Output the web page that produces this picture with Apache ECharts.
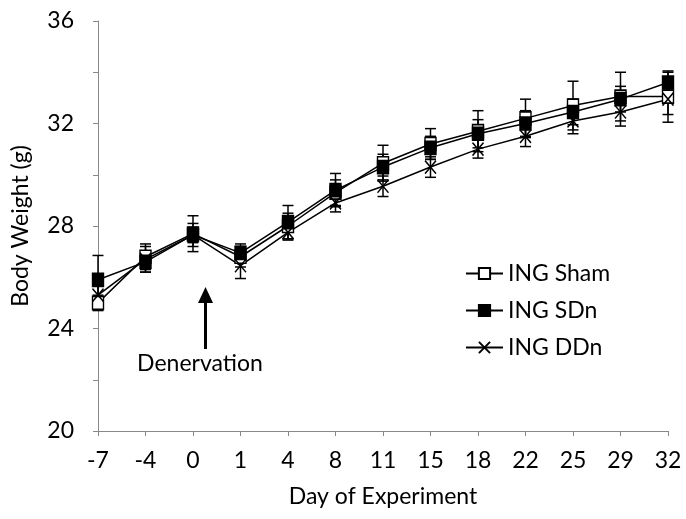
<!DOCTYPE html>
<html>
<head>
<meta charset="utf-8">
<script src="https://cdn.jsdelivr.net/npm/echarts@6/dist/echarts.min.js"></script>
<style>
  html, body { margin: 0; padding: 0; background: #fff; }
  #chart { width: 686px; height: 519px; }
</style>
</head>
<body>
<div id="chart"></div>
<script>
// days on the x axis (drawn as equally spaced categories)
const days = ['-7', '-4', '0', '1', '4', '8', '11', '15', '18', '22', '25', '29', '32'];

// mean body weight (g)
const shamMean = [25.0, 26.8, 27.7, 26.8, 28.0, 29.3, 30.45, 31.2, 31.7, 32.2, 32.7, 33.05, 33.05];
const sdnMean  = [25.9, 26.6, 27.65, 26.95, 28.15, 29.4, 30.3, 31.05, 31.6, 32.0, 32.45, 32.95, 33.6];
const ddnMean  = [25.3, 26.7, 27.65, 26.45, 27.75, 28.9, 29.55, 30.3, 31.0, 31.5, 32.1, 32.45, 32.95];

// error (+/-) for each point
const shamErr = [0.3, 0.5, 0.7, 0.4, 0.5, 0.5, 0.7, 0.6, 0.8, 0.75, 0.95, 0.95, 1.0];
const sdnErr  = [0.95, 0.4, 0.45, 0.35, 0.65, 0.65, 0.5, 0.45, 0.55, 0.5, 0.5, 0.5, 0.4];
const ddnErr  = [0.5, 0.5, 0.3, 0.5, 0.3, 0.35, 0.4, 0.4, 0.35, 0.4, 0.5, 0.55, 0.6];

const chart = echarts.init(document.getElementById('chart'));
const font = 'Lato, "Open Sans", sans-serif';

const crossPath = 'path://M0,0L10,12M10,0L0,12';

// error bars as custom series: vertical line plus caps
function errorSeries(name, means, errs) {
  return {
    name: name + ' err',
    type: 'custom',
    z: 1,
    data: means.map((m, i) => [i, m - errs[i], m + errs[i]]),
    renderItem: function (params, api) {
      const lo = api.coord([api.value(0), api.value(1)]);
      const hi = api.coord([api.value(0), api.value(2)]);
      const cap = 5.5;
      const style = { stroke: '#000', lineWidth: 1.5 };
      return {
        type: 'group',
        children: [
          { type: 'line', shape: { x1: lo[0], y1: lo[1], x2: hi[0], y2: hi[1] }, style: style },
          { type: 'line', shape: { x1: lo[0] - cap, y1: lo[1], x2: lo[0] + cap, y2: lo[1] }, style: style },
          { type: 'line', shape: { x1: hi[0] - cap, y1: hi[1], x2: hi[0] + cap, y2: hi[1] }, style: style }
        ]
      };
    }
  };
}

function lineSeries(name, means, symbol, fill) {
  return {
    name: name,
    type: 'line',
    z: 3,
    data: means,
    symbol: symbol,
    symbolSize: [11, 13],
    showAllSymbol: true,
    lineStyle: { color: '#000', width: 1.5 },
    itemStyle: { color: fill, borderColor: '#000', borderWidth: 1.5 },
    emphasis: { disabled: true }
  };
}

const option = {
  animation: false,
  backgroundColor: '#fff',
  grid: { left: 98, right: 18, top: 21, bottom: 88 },
  legend: {
    orient: 'vertical',
    left: 465,
    top: 262,
    padding: 0,
    itemGap: 14,
    itemWidth: 37,
    itemHeight: 14,
    data: ['ING Sham', 'ING SDn', 'ING DDn'],
    textStyle: { fontFamily: font, fontSize: 23, color: '#000', lineHeight: 23 }
  },
  xAxis: {
    type: 'category',
    data: days,
    boundaryGap: false,
    name: 'Day of Experiment',
    nameLocation: 'middle',
    nameGap: 54,
    nameTextStyle: { fontFamily: font, fontSize: 23, color: '#000' },
    axisLine: { lineStyle: { color: '#888', width: 1 } },
    axisTick: { show: true, length: 5, alignWithLabel: true, lineStyle: { color: '#888' } },
    axisLabel: { fontFamily: font, fontSize: 23, color: '#000', margin: 18, interval: 0 },
    splitLine: { show: false }
  },
  yAxis: {
    type: 'value',
    min: 20,
    max: 36,
    interval: 2,
    name: 'Body Weight (g)',
    nameLocation: 'middle',
    nameGap: 66,
    nameTextStyle: { fontFamily: font, fontSize: 23, color: '#000' },
    axisLine: { show: true, lineStyle: { color: '#888', width: 1 } },
    axisTick: { show: true, length: 5, lineStyle: { color: '#888' } },
    axisLabel: {
      fontFamily: font, fontSize: 23, color: '#000', margin: 24,
      formatter: v => (v % 4 === 0 ? String(v) : '')
    },
    splitLine: { show: false }
  },
  series: [
    errorSeries('ING Sham', shamMean, shamErr),
    errorSeries('ING SDn', sdnMean, sdnErr),
    errorSeries('ING DDn', ddnMean, ddnErr),
    lineSeries('ING Sham', shamMean, 'rect', '#fff'),
    lineSeries('ING SDn', sdnMean, 'rect', '#000'),
    lineSeries('ING DDn', ddnMean, crossPath, 'none')
  ],
  graphic: [
    // Denervation arrow
    { type: 'line', shape: { x1: 205.5, y1: 349, x2: 205.5, y2: 300 }, style: { stroke: '#000', lineWidth: 3 } },
    { type: 'polygon', shape: { points: [[205.5, 287], [198, 303], [213, 303]] }, style: { fill: '#000' } },
    {
      type: 'text', x: 200, y: 364,
      style: { text: 'Denervation', font: '23px ' + font, fill: '#000', align: 'center', verticalAlign: 'middle' }
    }
  ]
};

chart.setOption(option);
</script>
</body>
</html>
